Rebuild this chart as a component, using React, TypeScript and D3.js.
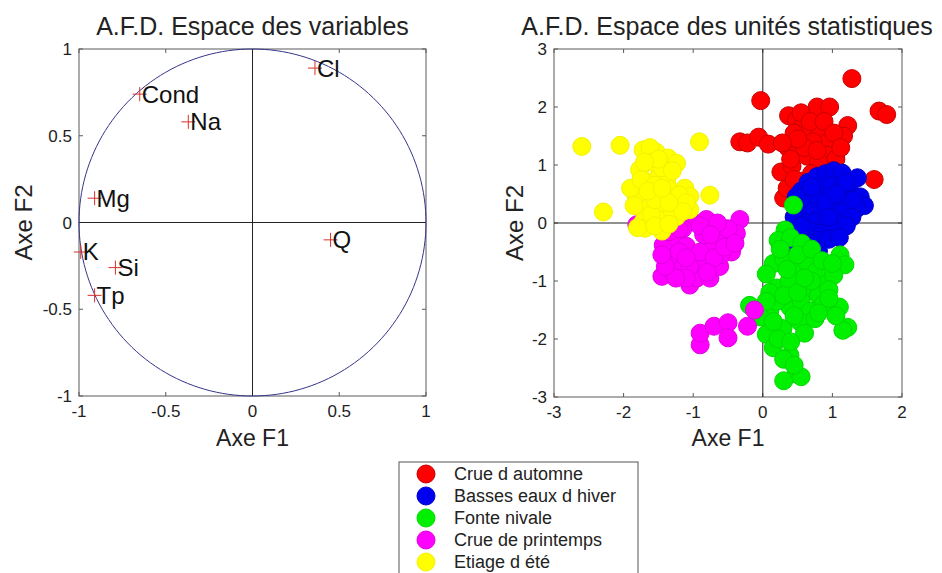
import React from "react";
import * as d3 from "d3";

// ---------- Data ----------
const variableNames = ["Cl", "Cond", "Na", "Mg", "Q", "K", "Si", "Tp"];
const variableF1 = [0.36, -0.65, -0.37, -0.91, 0.45, -0.99, -0.79, -0.91];
const variableF2 = [0.89, 0.74, 0.58, 0.14, -0.1, -0.17, -0.26, -0.42];

const leftTicks = [-1, -0.5, 0, 0.5, 1];
const rightXTicks = [-3, -2, -1, 0, 1, 2];
const rightYTicks = [-3, -2, -1, 0, 1, 2, 3];

const groupNames = [
  "Crue d automne",
  "Basses eaux d hiver",
  "Fonte nivale",
  "Crue de printemps",
  "Etiage d été",
];
const groupColors = ["#ff0000", "#0000f0", "#00f000", "#ff00ff", "#ffff00"];
const groupStrokes = ["#c80000", "#0000c8", "#00d800", "#e000e0", "#f2f200"];

const redPoints: [number, number][] = [
  [1.28, 2.49], [-0.03, 2.11], [1.67, 1.93], [1.78, 1.87], [-0.33, 1.40], [-0.22, 1.38],
  [-0.06, 1.48], [0.08, 1.36], [0.78, 2.0], [0.96, 2.0], [0.37, 1.85], [0.48, 1.77],
  [0.58, 1.68], [0.66, 1.58], [1.22, 1.68], [1.16, 1.5], [0.82, 1.55], [0.92, 1.38],
  [0.72, 1.4], [0.36, 1.3], [0.5, 1.2], [0.64, 1.15], [0.92, 1.17], [1.05, 1.1],
  [0.26, 0.88], [0.42, 0.98], [0.8, 1.05], [1.6, 0.75], [0.3, 0.43], [0.56, 0.72],
  [0.7, 0.85], [0.45, 1.55], [0.6, 1.3], [1.0, 0.9], [0.35, 0.6],
  [0.55, 1.9], [0.68, 1.75], [0.88, 1.75], [1.02, 1.55], [0.5, 1.45], [0.78, 1.25],
  [0.4, 1.1], [0.28, 1.38], [1.12, 1.3], [0.95, 0.75], [0.45, 0.75],
];
const bluePoints: [number, number][] = [
  [0.55, 0.55], [0.65, 0.7], [0.78, 0.8], [0.9, 0.85], [1.02, 0.9], [1.14, 0.86], [1.36, 0.78],
  [0.62, 0.45], [0.75, 0.55], [0.88, 0.62], [1.0, 0.65], [1.12, 0.6], [1.25, 0.55], [1.4, 0.45],
  [1.46, 0.3], [0.5, 0.3], [0.65, 0.35], [0.8, 0.4], [0.95, 0.45], [1.1, 0.4], [1.22, 0.35],
  [1.35, 0.25], [0.58, 0.15], [0.72, 0.2], [0.85, 0.22], [1.0, 0.25], [1.15, 0.18], [1.28, 0.1],
  [0.62, 0.0], [0.78, 0.02], [0.92, 0.05], [1.05, 0.02], [1.2, -0.05], [0.7, -0.15],
  [0.85, -0.18], [1.0, -0.12], [0.8, -0.3], [0.95, -0.28], [0.8, -0.48], [0.42, -0.4], [0.55, -0.25],
  [0.48, 0.45], [0.45, 0.1], [0.55, -0.05], [0.68, -0.35], [1.1, -0.25], [1.3, 0.4],
  [1.2, 0.7], [0.7, 0.62], [0.9, 0.35], [1.05, 0.5], [0.95, 0.1],
];
const greenPoints: [number, number][] = [
  [0.44, 0.31], [0.32, -0.12], [0.22, -0.3], [0.4, -0.25], [0.56, -0.35], [1.11, -0.55],
  [1.18, -0.72], [0.15, -0.7], [0.05, -0.88], [0.3, -0.62], [0.48, -0.78], [0.62, -0.65],
  [0.77, -0.84], [0.92, -1.05], [1.02, -0.9], [0.2, -1.12], [0.38, -1.0], [0.63, -1.13],
  [0.8, -1.25], [1.1, -1.45], [1.22, -1.8], [1.15, -1.85], [0.1, -1.52], [0.39, -1.45],
  [0.55, -1.35], [0.68, -1.52], [0.87, -1.4], [0.05, -1.92], [0.29, -1.82], [0.53, -1.7],
  [0.75, -1.65], [0.15, -2.15], [0.39, -2.28], [0.48, -2.6], [0.3, -2.72], [0.55, -2.65],
  [-0.19, -1.42], [-0.04, -1.62], [0.95, -1.15], [0.2, -1.35],
  [0.25, -0.45], [0.5, -0.55], [0.7, -0.45], [0.35, -0.8], [0.1, -1.2], [0.3, -1.25],
  [0.5, -1.2], [0.7, -1.0], [0.85, -0.65], [1.0, -0.7], [0.6, -0.95], [0.45, -1.6],
  [0.15, -1.7], [0.22, -2.0], [0.3, -2.35], [0.45, -2.45], [0.6, -1.9], [0.95, -1.3],
  [1.05, -1.6], [0.8, -1.55], [0.4, -2.05], [0.05, -1.35],
];
const magentaPoints: [number, number][] = [
  [-1.81, -0.03], [-0.33, 0.06], [-0.81, 0.06], [-1.0, 0.02], [-1.15, -0.1], [-1.43, -0.38],
  [-1.45, -0.92], [-1.3, -0.85], [-1.05, -1.07], [-0.95, -0.95], [-0.76, -0.95], [-0.62, -0.75],
  [-0.45, -0.5], [-0.38, -0.18], [-1.24, -0.7], [-1.0, -0.55], [-0.76, -0.38], [-1.24, -0.26],
  [-0.67, -0.15], [-0.55, -0.3], [-0.85, -0.2], [-1.1, -0.4], [-0.85, -0.7], [-0.6, -0.55],
  [-1.35, -0.6], [-0.9, -2.1], [-0.9, -1.9], [-0.7, -1.78], [-0.5, -1.72], [-0.5, -1.98],
  [-0.22, -1.78], [-0.12, -1.5],
  [-1.35, -0.15], [-1.2, -0.5], [-1.05, -0.75], [-0.9, -0.5], [-0.7, -0.6], [-0.5, -0.1],
  [-0.65, 0.0], [-0.9, -0.05], [-1.1, -0.95], [-1.25, -0.95], [-0.8, -0.85], [-0.55, -0.42],
  [-0.4, -0.35], [-1.4, -0.75], [-1.45, -0.55], [-1.1, -0.6], [-0.75, -0.2], [-1.2, -0.1],
];
const yellowPoints: [number, number][] = [
  [-2.6, 1.32], [-2.05, 1.34], [-0.91, 1.4], [-0.76, 0.48], [-2.29, 0.19], [-1.72, 1.26],
  [-1.53, 1.22], [-1.36, 1.12], [-1.24, 1.03], [-1.62, 1.3], [-1.77, 0.92], [-1.63, 0.7],
  [-1.48, 0.85], [-1.38, 0.75], [-1.82, 0.46], [-1.58, 0.52], [-1.34, 0.57], [-1.12, 0.6],
  [-1.72, 0.23], [-1.48, 0.29], [-1.24, 0.34], [-1.05, 0.46], [-1.05, 0.23], [-1.72, 0.02],
  [-1.48, 0.05], [-1.24, 0.11], [-1.69, -0.09], [-1.45, -0.14], [-1.6, 1.05], [-1.45, 0.95],
  [-1.85, 0.3], [-1.9, 0.6], [-1.75, 0.75], [-1.55, 0.65], [-1.4, 0.45], [-1.2, 0.48],
  [-1.1, 0.35], [-1.3, 0.2], [-1.6, 0.15], [-1.8, -0.08], [-1.55, -0.05], [-1.35, -0.02],
  [-1.15, 0.2], [-1.5, 1.1], [-1.3, 0.9], [-1.7, 1.05], [-1.55, 0.4], [-1.35, 0.35],
  [-1.65, 0.55], [-1.45, 0.6],
];
const groupPoints = [redPoints, bluePoints, greenPoints, magentaPoints, yellowPoints];

// ---------- Layout ----------
const W = 942;
const H = 573;
const FONT = "'Liberation Sans', Arial, Helvetica, sans-serif";

const L = { x0: 79, x1: 426, y0: 49, y1: 396 };
const R = { x0: 554, x1: 902, y0: 49, y1: 397 };

function Frame({ box, xs, ys, xt, yt, fmt }: any) {
  const tl = 4;
  return (
    <g>
      <rect x={box.x0} y={box.y0} width={box.x1 - box.x0} height={box.y1 - box.y0} fill="white" stroke="#5a5a5a" strokeWidth={1} />
      {xt.map((t: number) => (
        <g key={"x" + t}>
          <line x1={xs(t)} x2={xs(t)} y1={box.y1} y2={box.y1 - tl} stroke="#5a5a5a" />
          <line x1={xs(t)} x2={xs(t)} y1={box.y0} y2={box.y0 + tl} stroke="#5a5a5a" />
          <text x={xs(t)} y={box.y1 + 21} textAnchor="middle" fontSize={17} fill="#222" fontFamily={FONT}>{fmt(t)}</text>
        </g>
      ))}
      {yt.map((t: number) => (
        <g key={"y" + t}>
          <line x1={box.x0} x2={box.x0 + tl} y1={ys(t)} y2={ys(t)} stroke="#5a5a5a" />
          <line x1={box.x1} x2={box.x1 - tl} y1={ys(t)} y2={ys(t)} stroke="#5a5a5a" />
          <text x={box.x0 - 7} y={ys(t) + 6} textAnchor="end" fontSize={17} fill="#222" fontFamily={FONT}>{fmt(t)}</text>
        </g>
      ))}
    </g>
  );
}

export default function App() {
  const lx = d3.scaleLinear().domain([-1, 1]).range([L.x0, L.x1]);
  const ly = d3.scaleLinear().domain([-1, 1]).range([L.y1, L.y0]);
  const rx = d3.scaleLinear().domain([-3, 2]).range([R.x0, R.x1]);
  const ry = d3.scaleLinear().domain([-3, 3]).range([R.y1, R.y0]);
  const fmt = (v: number) => (v === 0 ? "0" : String(v));

  const angles = d3.range(0, 361, 2);
  const circlePath = d3
    .line<number>()
    .x((a) => lx(Math.cos((a * Math.PI) / 180)))
    .y((a) => ly(Math.sin((a * Math.PI) / 180)))(angles) as string;

  const legendX = 399;
  const legendY = 462;
  const legendStep = 22;

  return (
    <div style={{ position: "fixed", left: 0, top: 0, width: W, height: H, background: "white" }}>
      <svg width={W} height={H} style={{ display: "block" }}>
        <rect width={W} height={H} fill="white" />
        {/* Left plot */}
        <Frame box={L} xs={lx} ys={ly} xt={leftTicks} yt={leftTicks} fmt={fmt} />
        <line x1={lx(0)} x2={lx(0)} y1={L.y0} y2={L.y1} stroke="#222" strokeWidth={1} />
        <line x1={L.x0} x2={L.x1} y1={ly(0)} y2={ly(0)} stroke="#222" strokeWidth={1} />
        <path d={circlePath} fill="none" stroke="#34348a" strokeWidth={1} />
        {variableNames.map((n, i) => {
          const cx = lx(variableF1[i]);
          const cy = ly(variableF2[i]);
          return (
            <g key={n}>
              <line x1={cx - 7} x2={cx + 7} y1={cy} y2={cy} stroke="#d83030" strokeWidth={1} />
              <line x1={cx} x2={cx} y1={cy - 7} y2={cy + 7} stroke="#d83030" strokeWidth={1} />
              <text x={cx + 2} y={cy + 8.5} fontSize={24} fontFamily={FONT} fill="#111">{n}</text>
            </g>
          );
        })}
        <text x={(L.x0 + L.x1) / 2} y={35} textAnchor="middle" fontSize={25} fontFamily={FONT} fill="#222">A.F.D. Espace des variables</text>
        <text x={(L.x0 + L.x1) / 2} y={446} textAnchor="middle" fontSize={23} fontFamily={FONT} fill="#222">Axe F1</text>
        <text transform={`translate(32, ${(L.y0 + L.y1) / 2}) rotate(-90)`} textAnchor="middle" fontSize={24} fontFamily={FONT} fill="#222">Axe F2</text>

        {/* Right plot */}
        <Frame box={R} xs={rx} ys={ry} xt={rightXTicks} yt={rightYTicks} fmt={fmt} />
        <line x1={rx(0)} x2={rx(0)} y1={R.y0} y2={R.y1} stroke="#222" strokeWidth={1} />
        <line x1={R.x0} x2={R.x1} y1={ry(0)} y2={ry(0)} stroke="#222" strokeWidth={1} />
        {groupPoints.map((pts, g) => (
          <g key={g}>
            {pts.map((p, j) => (
              <circle key={j} cx={rx(p[0])} cy={ry(p[1])} r={9} fill={groupColors[g]} stroke={groupStrokes[g]} strokeWidth={1} />
            ))}
          </g>
        ))}
        <text x={727} y={35} textAnchor="middle" fontSize={25} fontFamily={FONT} fill="#222">A.F.D. Espace des unités statistiques</text>
        <text x={(R.x0 + R.x1) / 2} y={446} textAnchor="middle" fontSize={23} fontFamily={FONT} fill="#222">Axe F1</text>
        <text transform={`translate(523, ${(R.y0 + R.y1) / 2}) rotate(-90)`} textAnchor="middle" fontSize={24} fontFamily={FONT} fill="#222">Axe F2</text>

        {/* Legend */}
        <rect x={legendX} y={legendY} width={239} height={130} fill="white" stroke="#555" strokeWidth={1} />
        {groupNames.map((n, i) => (
          <g key={n}>
            <circle cx={legendX + 27} cy={legendY + 12 + i * legendStep} r={9} fill={groupColors[i]} stroke={groupStrokes[i]} />
            <text x={legendX + 55} y={legendY + 12 + i * legendStep + 6} fontSize={18} fontFamily={FONT} fill="#222">{n}</text>
          </g>
        ))}
      </svg>
    </div>
  );
}
